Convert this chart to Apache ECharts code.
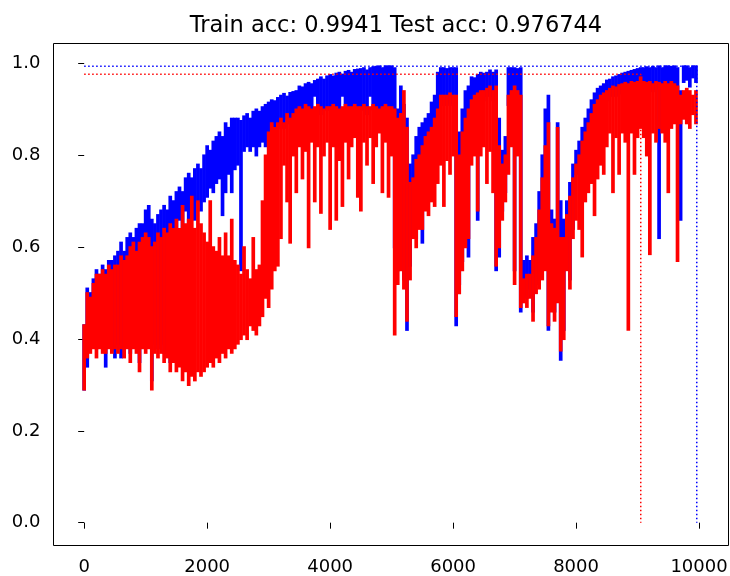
<!DOCTYPE html>
<html>
<head>
<meta charset="utf-8">
<script src="https://cdn.jsdelivr.net/npm/echarts@6/dist/echarts.min.js"></script>
<style>
html,body{margin:0;padding:0;background:#fff;}
#chart{width:730px;height:576px;}
</style>
</head>
<body>
<div id="chart"></div>
<script>
// Sampling step of the iteration axis (each bin holds the max and min seen in that bin)
const STEP = 50;

// Train accuracy (blue): upper and lower value per bin, x = 0 .. 9950
const trainHi = [
  .43,.51,.50,.53,.55,.54,.56,.55,.57,.57,
  .58,.59,.61,.59,.62,.63,.62,.64,.65,.65,
  .68,.69,.66,.65,.67,.68,.69,.68,.71,.70,
  .72,.73,.72,.75,.76,.75,.77,.78,.77,.80,
  .82,.81,.83,.84,.85,.84,.87,.86,.88,.88,
  .88,.875,.885,.89,.88,.895,.90,.895,.905,.91,
  .915,.92,.918,.925,.93,.934,.928,.936,.938,.94,
  .95,.948,.955,.958,.955,.962,.965,.97,.965,.972,
  .975,.972,.978,.98,.976,.982,.984,.98,.986,.987,
  .988,.99,.985,.99,.992,.993,.994,.99,.994,.994,
  .994,.99,.90,.95,.91,.88,.78,.80,.84,.86,
  .87,.88,.89,.915,.93,.98,.99,.99,.988,.99,
  .99,.99,.85,.90,.94,.95,.97,.968,.975,.98,
  .978,.98,.985,.98,.985,.88,.81,.84,.99,.99,
  .99,.988,.99,.57,.58,.57,.62,.65,.72,.80,
  .90,.93,.68,.66,.87,.70,.66,.70,.74,.78,
  .81,.83,.86,.88,.90,.92,.935,.945,.95,.955,
  .963,.965,.97,.972,.975,.978,.98,.982,.984,.986,
  .988,.99,.99,.992,.99,.993,.99,.994,.99,.994,
  .994,.993,.994,.99,.94,.994,.994,.99,.994,.994
];
const trainLo = [
  .29,.34,.39,.40,.38,.40,.39,.34,.40,.39,
  .36,.39,.36,.38,.40,.37,.40,.39,.35,.40,
  .39,.40,.31,.39,.38,.39,.37,.38,.35,.37,
  .64,.66,.62,.68,.64,.69,.66,.70,.68,.70,
  .71,.73,.72,.74,.75,.67,.72,.76,.72,.77,
  .78,.55,.81,.82,.81,.82,.80,.82,.83,.82,
  .84,.86,.85,.86,.87,.86,.88,.87,.88,.89,
  .89,.90,.90,.89,.90,.93,.90,.89,.90,.90,
  .90,.90,.89,.90,.93,.90,.89,.90,.90,.89,
  .90,.90,.89,.93,.90,.89,.90,.90,.91,.89,
  .90,.60,.55,.58,.53,.42,.56,.64,.62,.66,
  .61,.82,.83,.84,.86,.88,.91,.91,.91,.915,
  .91,.43,.52,.57,.62,.58,.90,.91,.66,.92,
  .92,.93,.93,.92,.55,.58,.68,.72,.91,.92,
  .55,.92,.46,.50,.49,.51,.46,.52,.53,.55,
  .57,.42,.48,.46,.50,.355,.42,.57,.53,.64,
  .76,.78,.81,.83,.85,.87,.89,.90,.91,.915,
  .92,.93,.93,.93,.935,.94,.94,.94,.945,.94,
  .945,.94,.945,.94,.945,.94,.945,.62,.94,.945,
  .94,.945,.94,.94,.66,.96,.965,.95,.97,.96
];

// Test accuracy (red): upper and lower value per bin, x = 0 .. 9950
const testHi = [
  .43,.50,.49,.52,.54,.54,.55,.54,.56,.55,
  .56,.56,.58,.57,.58,.60,.61,.59,.61,.62,
  .63,.62,.60,.61,.63,.62,.64,.63,.65,.64,
  .66,.64,.69,.65,.66,.71,.64,.70,.65,.63,
  .61,.70,.60,.59,.62,.58,.63,.58,.66,.57,
  .56,.54,.60,.55,.53,.62,.55,.56,.70,.80,
  .85,.87,.86,.87,.88,.87,.89,.88,.89,.90,
  .905,.90,.91,.905,.90,.905,.91,.905,.90,.905,
  .905,.91,.905,.90,.905,.91,.905,.905,.91,.905,
  .905,.91,.905,.905,.91,.905,.90,.905,.91,.905,
  .905,.90,.88,.89,.94,.86,.74,.75,.79,.80,
  .82,.84,.85,.86,.88,.90,.93,.93,.93,.935,
  .93,.93,.80,.85,.88,.90,.92,.93,.935,.94,
  .94,.945,.95,.94,.95,.82,.78,.80,.93,.94,
  .95,.94,.93,.53,.54,.54,.58,.62,.68,.75,
  .82,.87,.65,.64,.86,.62,.62,.67,.71,.75,
  .78,.80,.83,.85,.87,.89,.91,.92,.93,.935,
  .94,.945,.95,.948,.953,.955,.958,.955,.96,.958,
  .96,.97,.96,.958,.96,.955,.96,.958,.955,.96,
  .955,.96,.955,.95,.93,.94,.945,.94,.93,.94
];
const testLo = [
  .29,.36,.37,.38,.36,.38,.37,.37,.38,.37,
  .38,.37,.38,.36,.38,.35,.38,.37,.33,.38,
  .37,.38,.29,.37,.36,.37,.35,.36,.33,.35,
  .33,.34,.31,.33,.30,.32,.31,.33,.32,.33,
  .34,.35,.34,.36,.35,.37,.36,.38,.37,.38,
  .39,.40,.41,.40,.43,.42,.41,.43,.45,.49,
  .47,.51,.55,.56,.62,.78,.70,.61,.80,.72,
  .82,.75,.81,.60,.83,.70,.82,.675,.80,.83,
  .64,.82,.66,.79,.69,.83,.75,.82,.84,.71,
  .68,.83,.78,.84,.74,.82,.85,.72,.83,.71,
  .80,.41,.52,.55,.51,.44,.53,.62,.60,.64,
  .64,.68,.67,.70,.69,.74,.78,.69,.79,.76,
  .80,.45,.50,.55,.60,.62,.78,.80,.68,.80,
  .82,.74,.81,.72,.56,.60,.66,.70,.76,.82,
  .52,.80,.47,.48,.47,.49,.44,.50,.51,.53,
  .55,.43,.46,.44,.48,.375,.40,.55,.51,.62,
  .66,.64,.58,.70,.72,.74,.67,.75,.78,.76,
  .82,.85,.72,.84,.76,.85,.83,.42,.85,.76,
  .84,.86,.84,.80,.585,.85,.83,.86,.85,.83,
  .72,.86,.87,.57,.87,.88,.87,.86,.89,.87
];

// Best values (dotted guide lines): position and accuracy
const bestNames = ['train', 'test'];
const bestX = [9963, 9052];
const bestY = [0.9941, 0.976744];

// Axis ticks
const xTicks = [0, 2000, 4000, 6000, 8000, 10000];
const yTicks = [0.0, 0.2, 0.4, 0.6, 0.8, 1.0];

const titleText = 'Train acc: 0.9941 Test acc: 0.976744';

function binData(hi, lo) {
  return hi.map((h, i) => [i * STEP, lo[i], h]);
}
function guide(i) {
  return [[0, bestY[i]], [bestX[i], bestY[i]], [bestX[i], 0]];
}
// Each bin is drawn as a filled column from its low to its high value,
// spanning its own slice of the x axis (mapped with the axes' coordinates).
function binRenderer(color) {
  return function (params, api) {
    const x = api.value(0);
    const lo = api.value(1), hi = api.value(2);
    const tl = api.coord([x - STEP * 0.6, hi]);
    const br = api.coord([x + STEP * 0.6, lo]);
    return {
      type: 'rect',
      shape: {x: tl[0], y: tl[1] - 1, width: br[0] - tl[0], height: br[1] - tl[1] + 2},
      style: {fill: color}
    };
  };
}

const BLUE = '#0000ff', RED = '#ff0000';
const FONT = 'DejaVu Sans';

const chart = echarts.init(document.getElementById('chart'), null, {renderer: 'canvas'});
chart.setOption({
  animation: false,
  backgroundColor: '#ffffff',
  title: {
    text: titleText, left: 391, textAlign: 'center', top: 10,
    textStyle: {fontFamily: FONT, fontSize: 22.5, fontWeight: 'normal', color: '#000'}
  },
  grid: {
    left: 53.5, right: 1.5, top: 43.5, bottom: 30.5,
    show: true, borderColor: '#000', borderWidth: 1,
    containLabel: false, outerBoundsMode: 'none'
  },
  xAxis: {
    type: 'value', min: -499, max: 10479,
    axisLine: {show: false}, splitLine: {show: false},
    axisTick: {show: true, inside: false, length: 6, customValues: xTicks, lineStyle: {color: '#000', width: 1}},
    axisLabel: {customValues: xTicks, margin: 13, fontFamily: FONT, fontSize: 18, color: '#000',
      formatter: v => String(Math.round(v))}
  },
  yAxis: {
    type: 'value', min: -0.0497, max: 1.0438,
    axisLine: {show: false}, splitLine: {show: false},
    axisTick: {show: true, inside: false, length: 6, customValues: yTicks, lineStyle: {color: '#000', width: 1}},
    axisLabel: {customValues: yTicks, margin: 13, fontFamily: FONT, fontSize: 18, color: '#000',
      formatter: v => Number(v).toFixed(1)}
  },
  series: [
    {name: 'train', type: 'custom', data: binData(trainHi, trainLo), progressive: 0,
     encode: {x: 0, y: [1, 2]}, renderItem: binRenderer(BLUE), z: 2},
    {name: 'test', type: 'custom', data: binData(testHi, testLo), progressive: 0,
     encode: {x: 0, y: [1, 2]}, renderItem: binRenderer(RED), z: 3},
    {name: 'train best', type: 'line', data: guide(0), symbol: 'none',
     lineStyle: {color: BLUE, width: 1.5, type: [1.5, 2.5]}, z: 4},
    {name: 'test best', type: 'line', data: guide(1), symbol: 'none',
     lineStyle: {color: RED, width: 1.5, type: [1.5, 2.5]}, z: 4}
  ]
});
</script>
</body>
</html>
